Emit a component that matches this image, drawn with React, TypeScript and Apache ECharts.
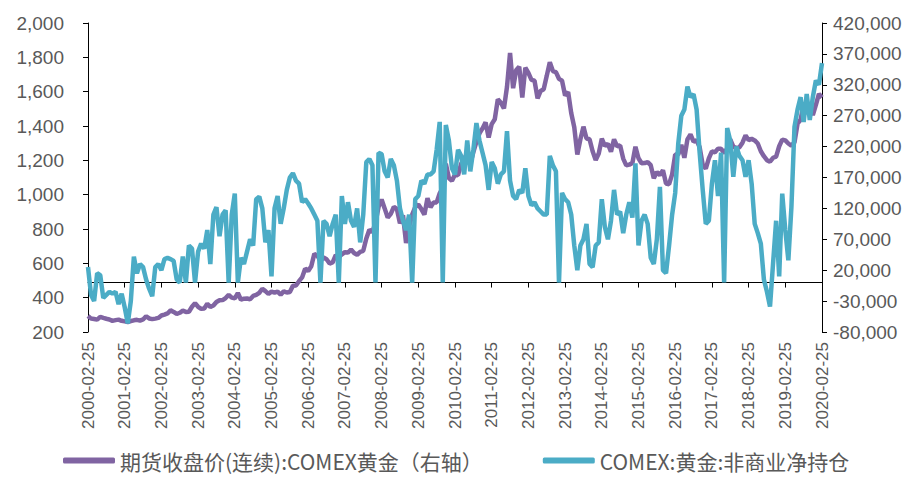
import React, { useEffect, useRef } from "react";
import * as echarts from "echarts";

// Monthly categories 2000-02-25 ... 2020-02-25
const startYear = 2000;
const startMonth = 2;
const monthCount = 241;
const categories: string[] = [];
for (let i = 0; i < monthCount; i++) {
  const t = startMonth - 1 + i;
  const y = startYear + Math.floor(t / 12);
  const m = (t % 12) + 1;
  categories.push(`${y}-${m < 10 ? "0" + m : m}-25`);
}

// COMEX gold continuous futures close (left axis)
const goldPrice: (number | null)[] = [
  293, 278, 276, 272, 288, 282, 277, 273, 265, 269, 272,
  265, 262, 258, 264, 268, 271, 266, 273, 292, 279, 275, 278,
  282, 296, 301, 308, 326, 317, 305, 312, 324, 317, 318, 347,
  368, 347, 335, 337, 364, 346, 354, 375, 385, 386, 398, 416,
  400, 396, 427, 388, 394, 395, 391, 410, 416, 428, 452, 438,
  422, 435, 429, 435, 417, 437, 430, 433, 470, 471, 496, 518,
  569, 556, 583, 655, 645, 614, 634, 624, 599, 605, 648, 636,
  652, 665, 663, 680, 660, 650, 667, 673, 745, 795, 784, 836,
  928, 972, 920, 866, 888, 929, 917, 833, 880, 718, 815, 884,
  928, 942, 916, 884, 979, 926, 955, 955, 1008, 1040, 1181, 1097,
  1081, 1118, 1113, 1180, 1207, 1244, 1181, 1248, 1307, 1357, 1386, 1421,
  1333, 1411, 1439, 1556, 1536, 1502, 1628, 1825, 1620, 1725, 1746, 1566,
  1740, 1710, 1669, 1664, 1561, 1604, 1614, 1692, 1772, 1720, 1714, 1675,
  1664, 1578, 1598, 1476, 1393, 1234, 1323, 1396, 1327, 1323, 1253, 1202,
  1240, 1326, 1284, 1296, 1250, 1322, 1282, 1287, 1210, 1171, 1175, 1184,
  1279, 1212, 1183, 1184, 1190, 1172, 1095, 1132, 1114, 1142, 1065, 1061,
  1118, 1234, 1234, 1290, 1215, 1322, 1351, 1309, 1316, 1276, 1173, 1152,
  1211, 1252, 1247, 1268, 1268, 1242, 1269, 1322, 1280, 1271, 1276, 1303,
  1345, 1318, 1325, 1316, 1298, 1253, 1224, 1201, 1192, 1215, 1222, 1282,
  1321, 1316, 1298, 1285, 1305, 1413, 1437, 1529, 1472, 1513, 1464, 1523,
  1587, 1566,
];

// COMEX gold non-commercial net positions (right axis)
const netPosition: number[] = [
  25000, -20000, -30000, 15000, 12000, -25000, -20000, -15000, -18000, -15000,
  -35000, -18000, -40000, -66000, -30000, 42000, 15000, 30000, 25000, 5000,
  -10000, -22000, 25000, 30000, 20000, 38000, 40000, 38000, 35000, 5000,
  0, 42000, 0, 60000, 55000, 0, 50000, 63000, 55000, 85000,
  30000, 110000, 122000, 75000, 110000, 117000, 0, 110000, 144000, 0,
  40000, 30000, 50000, 70000, 60000, 135000, 139000, 120000, 65000, 85000,
  10000, 120000, 140000, 95000, 120000, 150000, 170000, 177000, 165000, 160000,
  130000, 135000, 128000, 120000, 110000, 100000, 0, 100000, 95000, 75000,
  95000, 110000, 0, 140000, 95000, 130000, 100000, 90000, 120000, 65000,
  110000, 195000, 200000, 190000, 0, 210000, 208000, 180000, 170000, 200000,
  190000, 165000, 120000, 100000, 85000, 110000, 0, 135000, 140000, 165000,
  160000, 175000, 175000, 180000, 215000, 260000, 0, 255000, 230000, 185000,
  175000, 215000, 205000, 175000, 230000, 180000, 215000, 258000, 230000, 210000,
  190000, 150000, 195000, 185000, 160000, 175000, 180000, 245000, 165000, 140000,
  135000, 150000, 145000, 185000, 140000, 125000, 130000, 120000, 115000, 110000,
  110000, 205000, 190000, 180000, 0, 145000, 135000, 130000, 110000, 60000,
  20000, 60000, 70000, 95000, 30000, 25000, 60000, 65000, 135000, 90000,
  70000, 100000, 150000, 110000, 115000, 80000, 110000, 130000, 105000, 193000,
  60000, 100000, 110000, 95000, 40000, 30000, 70000, 155000, 20000, 15000,
  60000, 110000, 145000, 225000, 270000, 280000, 317000, 300000, 305000, 280000,
  210000, 150000, 95000, 100000, 160000, 198000, 140000, 210000, 0, 250000,
  230000, 171000, 220000, 205000, 198000, 171000, 198000, 160000, 95000, 80000,
  63000, 5000, -15000, -39000, 31000, 100000, 10000, 144000, 85000, 36000,
  122000, 252000, 280000, 300000, 260000, 305000, 263000, 300000, 327000, 320000,
  355000,
];

const leftTicks = { min: 200, max: 2000, interval: 200 };
const rightTickValues: number[] = [
  -80000, -30000, 20000, 70000, 120000, 170000, 220000, 270000, 320000, 370000, 420000,
];

const seriesNames = ["期货收盘价(连续):COMEX黄金（右轴）", "COMEX:黄金:非商业净持仓"];
const colors = ["#8064A2", "#4BACC6"];

const fmt = (v: number) => v.toLocaleString("en-US");

export default function App() {
  const ref = useRef<HTMLDivElement>(null);
  useEffect(() => {
    if (!ref.current) return;
    const chart = echarts.init(ref.current, null, { renderer: "svg" });
    const labelColor = "#595959";
    const font = "Liberation Sans";
    chart.setOption({
      animation: false,
      backgroundColor: "#ffffff",
      grid: { left: 88, right: 95, top: 23, bottom: 147, containLabel: false },
      legend: {
        bottom: 3,
        left: 58,
        itemGap: 60,
        itemWidth: 52,
        itemHeight: 6,
        icon: "roundRect",
        textStyle: { fontFamily: "Noto Sans CJK SC", fontSize: 21, color: labelColor },
        data: seriesNames,
      },
      xAxis: {
        type: "category",
        data: categories,
        boundaryGap: false,
        axisLine: { lineStyle: { color: "#000", width: 1 } },
        axisTick: { interval: 11, length: 5, lineStyle: { color: "#000" } },
        axisLabel: {
          interval: 11,
          rotate: 90,
          fontFamily: font,
          fontSize: 17,
          color: labelColor,
          margin: 10,
        },
        splitLine: { show: false },
      },
      yAxis: [
        {
          type: "value",
          position: "left",
          min: leftTicks.min,
          max: leftTicks.max,
          interval: leftTicks.interval,
          axisLine: { show: true, lineStyle: { color: "#000" } },
          axisTick: { show: true, length: 5, lineStyle: { color: "#000" } },
          axisLabel: { formatter: fmt, fontFamily: font, fontSize: 19, color: labelColor, margin: 24 },
          splitLine: { show: false },
        },
        {
          type: "value",
          position: "right",
          min: rightTickValues[0],
          max: rightTickValues[rightTickValues.length - 1],
          axisLine: { show: true, lineStyle: { color: "#000" } },
          axisTick: { show: true, length: 5, customValues: rightTickValues, lineStyle: { color: "#000" } },
          axisLabel: {
            customValues: rightTickValues,
            formatter: fmt,
            fontFamily: font,
            fontSize: 19,
            color: labelColor,
            margin: 11,
          },
          splitLine: { show: false },
        },
      ],
      series: [
        {
          name: seriesNames[0],
          type: "line",
          yAxisIndex: 0,
          data: goldPrice,
          showSymbol: false,
          symbol: "none",
          lineStyle: { color: colors[0], width: 4.5 },
          itemStyle: { color: colors[0] },
        },
        {
          name: seriesNames[1],
          type: "line",
          yAxisIndex: 1,
          data: netPosition,
          showSymbol: false,
          symbol: "none",
          lineStyle: { color: colors[1], width: 4.5 },
          itemStyle: { color: colors[1] },
        },
      ],
    });
    return () => chart.dispose();
  }, []);
  return (
    <div
      ref={ref}
      style={{ position: "fixed", left: 0, top: 0, width: 917, height: 479, background: "#fff" }}
    />
  );
}
